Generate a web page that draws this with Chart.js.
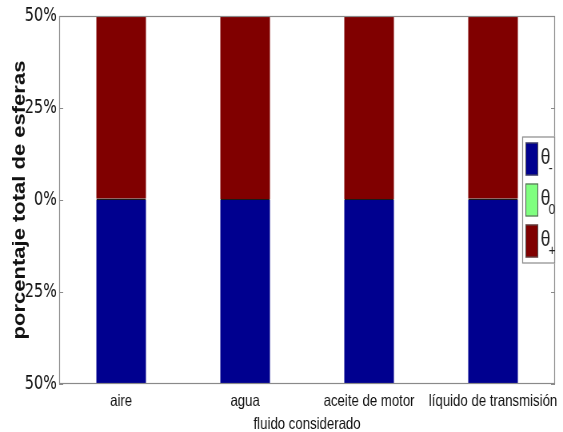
<!DOCTYPE html>
<html>
<head>
<meta charset="utf-8">
<script src="https://cdn.jsdelivr.net/npm/chart.js@4"></script>
<style>
  body { margin: 0; background: #fff; }
  canvas { display: block; }
</style>
</head>
<body>
<!-- drawn 704 wide and shown at 563: the reference figure is squeezed sideways -->
<canvas id="chart" width="704" height="432" style="width:563px;height:432px"></canvas>
<script>
'use strict';

// data
const categories = ['aire', 'agua', 'aceite de motor', 'líquido de transmisión'];
const thetaMinus = [-50, -50, -50, -50];
const thetaZero = [0.4, 0.3, 0.3, 0.4];
const thetaPlus = [49.6, 49.7, 49.7, 49.6];
const yTicks = [-50, -25, 0, 25, 50];
const seriesNames = ['-', '0', '+'];   // subscripts of θ
const seriesColors = ['#00008f', '#80ff80', '#800000'];

const sans = "'Liberation Sans', Arial, sans-serif";
const condensed = "'DejaVu Sans Condensed', 'Liberation Sans', sans-serif";

// frame box + small inward ticks
const framePlugin = {
  id: 'frame',
  afterDatasetsDraw(chart) {
    const { ctx, chartArea: a, scales: { y } } = chart;
    ctx.save();
    ctx.strokeStyle = '#8a8a8a';
    ctx.lineWidth = 1.2;
    ctx.strokeRect(a.left + 0.5, a.top + 0.5, a.right - a.left - 1, a.bottom - a.top - 1);
    yTicks.forEach(v => {
      const py = Math.round(y.getPixelForValue(v)) + 0.5;
      ctx.beginPath();
      ctx.moveTo(a.left, py);
      ctx.lineTo(a.left + 5, py);
      ctx.moveTo(a.right, py);
      ctx.lineTo(a.right - 5, py);
      ctx.stroke();
    });
    ctx.restore();
  }
};

// matlab style legend, boxed, on the right edge
const legendPlugin = {
  id: 'thetaLegend',
  afterDatasetsDraw(chart) {
    const { ctx, chartArea: a } = chart;
    const w = 41, h = 127;
    const left = a.right - w;
    const top = (a.top + a.bottom) / 2 - h / 2;
    ctx.save();
    ctx.fillStyle = '#fff';
    ctx.fillRect(left, top, w, h);
    ctx.strokeStyle = '#8a8a8a';
    ctx.lineWidth = 1.2;
    ctx.strokeRect(left + 0.5, top + 0.5, w - 1, h - 1);
    chart.data.datasets.forEach((ds, i) => {
      const sy = top + 6 + i * 41;
      ctx.fillStyle = ds.backgroundColor;
      ctx.fillRect(left + 4, sy, 16, 33);
      ctx.strokeStyle = '#555';
      ctx.lineWidth = 1;
      ctx.strokeRect(left + 4.5, sy + 0.5, 15, 32);
      ctx.fillStyle = '#222';
      ctx.textBaseline = 'middle';
      ctx.textAlign = 'left';
      ctx.font = '22px ' + sans;
      ctx.fillText('θ', left + 23, sy + 15);
      ctx.font = '15px ' + sans;
      ctx.fillText(seriesNames[i], left + 33, sy + 26);
    });
    ctx.restore();
  }
};

new Chart(document.getElementById('chart'), {
  type: 'bar',
  data: {
    labels: categories,
    datasets: [
      { label: 'θ-', data: thetaMinus, backgroundColor: seriesColors[0], borderWidth: 0 },
      { label: 'θ0', data: thetaZero, backgroundColor: seriesColors[1], borderColor: '#1a1a1a', borderWidth: 1, borderSkipped: false },
      { label: 'θ+', data: thetaPlus, backgroundColor: seriesColors[2], borderWidth: 0 }
    ]
  },
  options: {
    responsive: false,
    animation: false,
    devicePixelRatio: 1,
    layout: { padding: { top: 16, right: 10, left: 0, bottom: 0 } },
    datasets: {
      bar: { categoryPercentage: 1, barPercentage: 0.4 }
    },
    scales: {
      x: {
        stacked: true,
        grid: { display: false, drawTicks: false },
        border: { display: false },
        ticks: {
          color: '#111',
          padding: 8,
          maxRotation: 0,
          autoSkip: false,
          font: { family: sans, size: 16.5 }
        },
        title: {
          display: true,
          text: 'fluido considerado',
          color: '#111',
          padding: 0,
          font: { family: sans, size: 16.5, lineHeight: 0.9 }
        },
        afterFit(scale) {
          scale.height = 48;
          scale.paddingLeft = 0;
          scale.paddingRight = 0;
        }
      },
      y: {
        stacked: true,
        min: -50,
        max: 50,
        grid: { display: false, drawTicks: false },
        border: { display: false },
        afterBuildTicks(scale) { scale.ticks = yTicks.map(v => ({ value: v })); },
        ticks: {
          color: '#111',
          padding: 3,
          font: { family: condensed, size: 20 },
          callback: v => Math.abs(v) + '%'
        },
        title: {
          display: true,
          text: 'porcentaje total de esferas',
          color: '#111',
          padding: { top: 12, bottom: 0 },
          font: { family: sans, size: 22, weight: 'bold' }
        },
        afterFit(scale) {
          scale.width = 74;
          scale.paddingTop = 0;
          scale.paddingBottom = 0;
        }
      }
    },
    plugins: {
      legend: { display: false },
      tooltip: { enabled: false },
      title: { display: false }
    }
  },
  plugins: [framePlugin, legendPlugin]
});
</script>
</body>
</html>
